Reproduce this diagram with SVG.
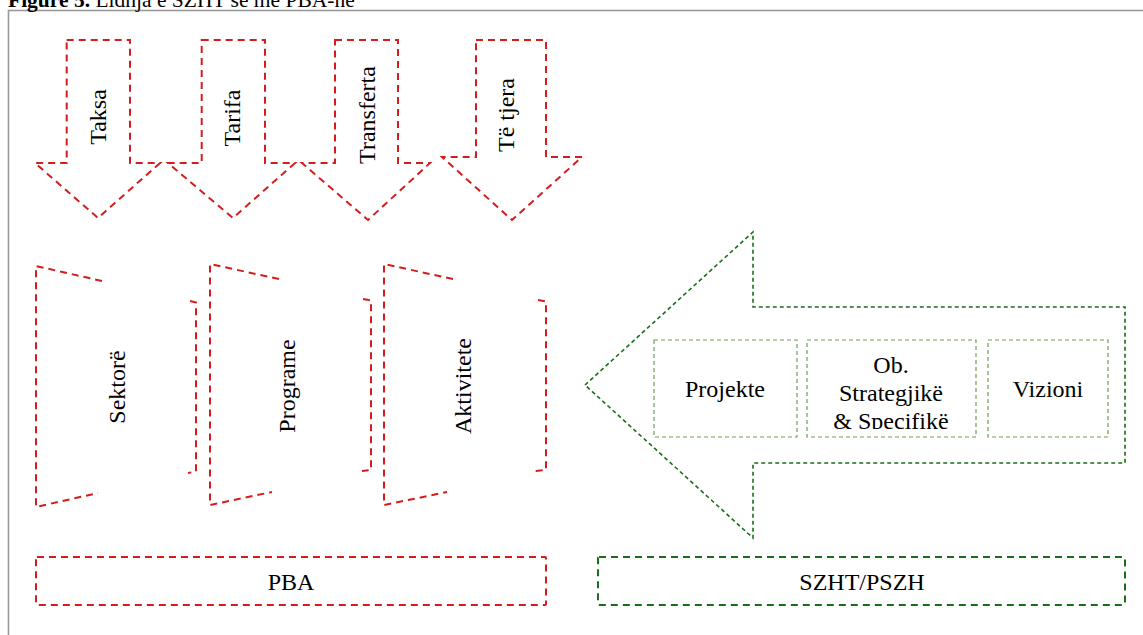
<svg xmlns="http://www.w3.org/2000/svg" width="1143" height="635" viewBox="0 0 1143 635">
<style>
text{font-family:"Liberation Serif","Times New Roman",serif;fill:#000}
.lbl{font-size:24px;text-anchor:middle}
.red{fill:none;stroke:#d41c1c;stroke-width:2;stroke-dasharray:7 5}
.garrow{fill:#fff;stroke:#1a6e1a;stroke-width:1.6;stroke-dasharray:4 3}
.gbox{fill:#fff;stroke:#6f9f57;stroke-width:1.2;stroke-dasharray:4 3}
.gbig{fill:none;stroke:#1a6e1a;stroke-width:2;stroke-dasharray:7 5}
</style>
<defs>
<clipPath id="clipOb"><rect x="808" y="341" width="168" height="88"/></clipPath>
</defs>
<rect width="1143" height="635" fill="#fff"/>
<rect x="8.5" y="10.5" width="1150" height="640" fill="none" stroke="#999" stroke-width="1.6"/>
<text x="8" y="7" font-size="21.5"><tspan font-weight="bold">Figure 5.</tspan> Lidhja e SZHT së me PBA-në</text>

<g id="arrow-taksa">
<path class="red" d="M66.7,40 H130 V163 H160 L98,218 L35,163 H66.7 Z"/>
<text class="lbl" transform="translate(106,117) rotate(-90)">Taksa</text>
</g>
<g id="arrow-tarifa">
<path class="red" d="M201.7,40 H265 V163 H295 L233,218 L168,163 H201.7 Z"/>
<text class="lbl" transform="translate(240,118) rotate(-90)">Tarifa</text>
</g>
<g id="arrow-transferta">
<path class="red" d="M335,40 H398 V163 H430 L368,220 L302,163 H335 Z"/>
<text class="lbl" transform="translate(375,115) rotate(-90)">Transferta</text>
</g>
<g id="arrow-tetjera">
<path class="red" d="M476,40 H546 V157 H582 L512,220 L442,157 H476 Z"/>
<text class="lbl" transform="translate(514,115) rotate(-90)">Të tjera</text>
</g>

<g id="sektore">
<path class="red" d="M102,281 L36,266 V507 L98,493 M190,301 L196,302.5 V471.5 L188,473"/>
<text class="lbl" transform="translate(125,387) rotate(-90)">Sektorë</text>
</g>
<g id="programe">
<path class="red" d="M279,279 L210,264 V505 L272,492 M363,299 L371,300.5 V470 L362,471"/>
<text class="lbl" transform="translate(295,386) rotate(-90)">Programe</text>
</g>
<g id="aktivitete">
<path class="red" d="M453,279 L384,264 V505 L447,492 M538,300 L546,301.5 V470 L535,471"/>
<text class="lbl" transform="translate(471,386) rotate(-90)">Aktivitete</text>
</g>

<g id="szht-arrow">
<path class="garrow" d="M585,385 L753,232 V307 H1125 V463 H753 V538 Z"/>
</g>
<g id="projekte">
<rect class="gbox" x="654" y="340" width="143" height="97"/>
<text class="lbl" x="725" y="397">Projekte</text>
</g>
<g id="objektiva">
<rect class="gbox" x="807" y="340" width="169" height="97"/>
<g clip-path="url(#clipOb)">
<text class="lbl" x="891" y="373">Ob.</text>
<text class="lbl" x="891" y="401">Strategjikë</text>
<text class="lbl" x="891" y="429">&amp; Specifikë</text>
</g>
</g>
<g id="vizioni">
<rect class="gbox" x="988" y="340" width="120" height="97"/>
<text class="lbl" x="1048" y="397">Vizioni</text>
</g>

<g id="pba">
<rect class="red" x="36" y="557" width="510" height="48" rx="1"/>
<text class="lbl" x="291" y="590">PBA</text>
</g>
<g id="szht-pszh">
<rect class="gbig" x="598" y="557" width="527" height="48" rx="1"/>
<text class="lbl" x="862" y="590">SZHT/PSZH</text>
</g>
<g id="connectors"/>
</svg>
